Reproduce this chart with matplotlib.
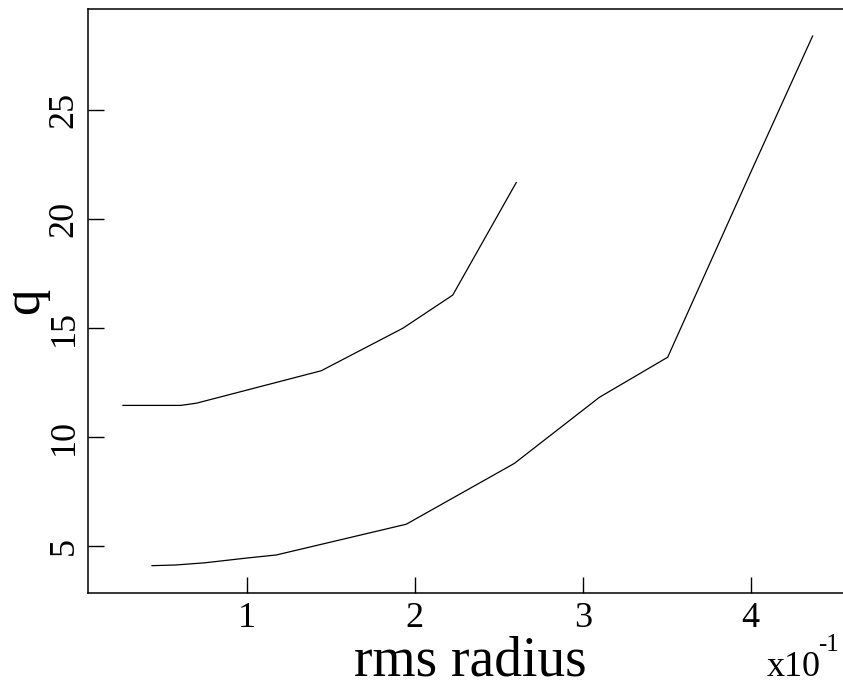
import matplotlib
matplotlib.use("Agg")
import matplotlib.pyplot as plt

plt.rcParams['font.family'] = ['Liberation Serif', 'DejaVu Serif']

# rms radius (units of 1e-1) and q for the two runs
radius_upper = [0.262, 0.605, 0.699, 1.443, 1.929, 2.226, 2.604]
q_upper = [11.45, 11.45, 11.55, 13.04, 14.99, 16.51, 21.67]

radius_lower = [0.435, 0.574, 0.748, 1.0, 1.175, 1.949, 2.593, 3.099, 3.506, 4.01, 4.369]
q_lower = [4.10, 4.13, 4.23, 4.45, 4.59, 6.0, 8.79, 11.82, 13.66, 22.3, 28.39]

x_ticks = [1, 2, 3, 4]
y_ticks = [5, 10, 15, 20, 25]

W, H = 843, 681
fig = plt.figure(figsize=(W / 100, H / 100), dpi=100)
ax = fig.add_axes([87.7 / W, 1 - 592.7 / H, 1 - 87.7 / W, (592.7 - 9) / H])

ax.plot(radius_upper, q_upper, color='black', lw=0.9)
ax.plot(radius_lower, q_lower, color='black', lw=0.9)

ax.set_xlim(0.052, 4.55)
ax.set_ylim(2.86, 29.63)
ax.set_xticks(x_ticks)
ax.set_yticks(y_ticks)
ax.set_xticklabels([str(t) for t in x_ticks])
ax.set_yticklabels([str(t) for t in y_ticks])

ax.spines['right'].set_visible(False)
for s in ['left', 'top', 'bottom']:
    ax.spines[s].set_linewidth(1.1)

ax.tick_params(direction='in', length=11.7, width=1.0, labelsize=26, pad=6.5)
ax.tick_params(axis='y', labelrotation=90, pad=5)
for lab in ax.get_yticklabels():
    lab.set_va('center')

fig.text(470 / W, 1 - 676 / H, 'rms radius', fontsize=40, ha='center', va='baseline')
fig.text(49 / W, 1 - 301 / H, 'q', fontsize=38, rotation=90, ha='right', va='center')
fig.text(767 / W, 1 - 676 / H, 'x10', fontsize=26, ha='left', va='baseline')
fig.text(818 / W, 1 - 651 / H, '-1', fontsize=18, ha='left', va='baseline')

fig.savefig('out.png', dpi=100)
